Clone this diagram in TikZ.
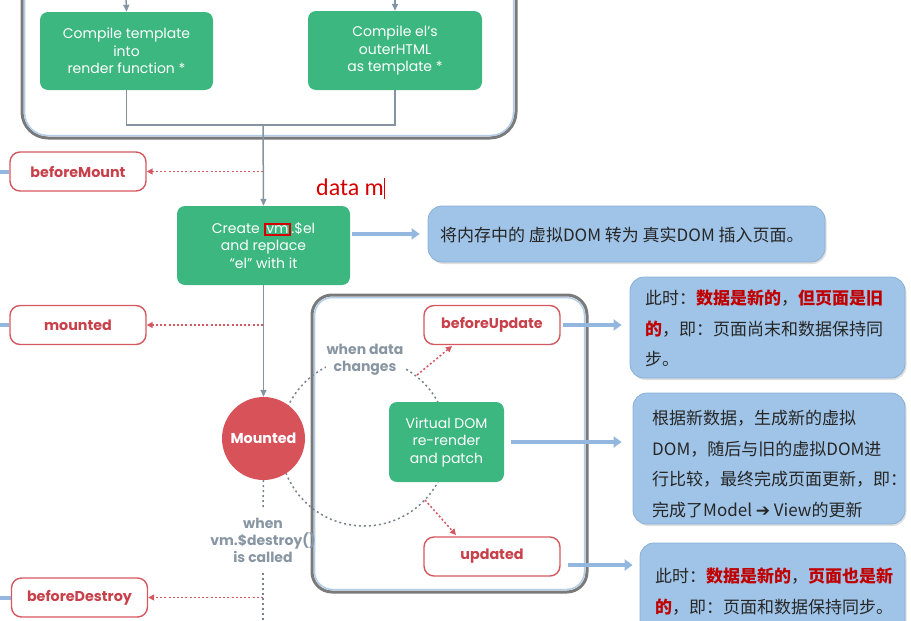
\documentclass[tikz,border=0pt]{standalone}
\usepackage{fontspec}
\setmainfont{Poppins}
\newfontfamily\cjk{Noto Sans CJK SC}
\newfontfamily\dejavu{DejaVu Sans}
\newfontfamily\carl{Carlito}
\usetikzlibrary{arrows.meta,shadows}
\definecolor{vgreen}{HTML}{3CB77F}
\definecolor{hookred}{HTML}{D4585F}
\definecolor{hooktxt}{HTML}{C8414A}
\definecolor{mred}{HTML}{D8525A}
\definecolor{lnk}{HTML}{8494A2}
\definecolor{dotgray}{HTML}{77838E}
\definecolor{notebg}{HTML}{9FC4E7}
\definecolor{noteedge}{HTML}{8AAFD6}
\definecolor{arrowblue}{HTML}{94B7DF}
\definecolor{frameg}{HTML}{7A7A7A}
\definecolor{framein}{HTML}{B3CDE9}
\definecolor{lbl}{HTML}{8896A3}
\definecolor{notered}{HTML}{C00000}
\definecolor{typered}{HTML}{D40000}
\newcommand\emred[1]{{\bfseries\color{notered}#1}}
\begin{document}
\begin{tikzpicture}[x=1pt,y=-1pt,
  greenbox/.style={fill=vgreen, rounded corners=8pt, text=white, font=\fontsize{14}{17.5}\selectfont, align=center, inner sep=0pt},
  hook/.style={draw=hookred, line width=1.4pt, fill=white, rounded corners=10pt, minimum width=136pt, minimum height=39pt, inner sep=0pt, text=hooktxt, font=\bfseries\fontsize{14.3}{16}\selectfont},
  note/.style={fill=notebg, draw=noteedge, line width=0.8pt, rounded corners=14pt, inner sep=0pt, drop shadow={shadow xshift=1.5pt, shadow yshift=-2pt, opacity=0.25}},
  notetxt/.style={font=\cjk\fontsize{17}{30.5}\selectfont, text=black!85, inner sep=0pt, align=left},
  conn/.style={draw=lnk, line width=1.5pt},
  connarrow/.style={conn, -{Triangle[length=7pt,width=6pt]}},
  hookarrow/.style={draw=hookred, line width=1.5pt, dash pattern=on 2pt off 2.2pt, -{Triangle[length=6pt,width=6pt]}},
  bluearrow/.style={draw=arrowblue, line width=4pt, -{Triangle[length=8pt,width=11pt]}},
  stub/.style={draw=arrowblue, line width=4pt},
  graylbl/.style={text=lbl, font=\bfseries\fontsize{14}{17}\selectfont, align=center, inner sep=1pt},
  grayline/.style={dotgray, line width=1.5pt, dash pattern=on 2pt off 3pt},
  ]
\useasboundingbox (0,0) rectangle (911,621);

% frames
\draw[frameg, line width=3pt, rounded corners=26pt] (22,-40) rectangle (516,138);
\draw[framein, line width=1.5pt, rounded corners=23pt] (24.5,-40) rectangle (513.5,135.5);
\draw[frameg, line width=3pt, rounded corners=20pt] (312,295) rectangle (587,592);
\draw[framein, line width=1.5pt, rounded corners=18pt] (314.5,297.5) rectangle (584.5,589.5);

% dotted circle of the update loop
\draw[grayline] (364,442) circle (84);

% green boxes
\node[greenbox, minimum width=173pt, minimum height=78pt] (c1) at (126.5,51) {Compile template\\into\\render function *};
\node[greenbox, minimum width=174pt, minimum height=79pt] (c2) at (395,50.5) {Compile el's\\outerHTML\\as template *};
\node[greenbox, minimum width=173pt, minimum height=79pt] (cr) at (263.5,245.5) {Create \setlength{\fboxsep}{0.6pt}\setlength{\fboxrule}{2.2pt}\fcolorbox{typered}{vgreen}{vm}.\$el\\and replace\\“el” with it};
\node[greenbox, minimum width=115pt, minimum height=80pt] (vd) at (446.5,442) {Virtual DOM\\re-render\\and patch};

% incoming lines at the top
\coordinate (in1) at (126,-5);
\coordinate (in2) at (395,-5);
\draw[connarrow] (in1) -- (c1.north);
\draw[connarrow] (in2) -- (c2.north);

% merge into Create
\coordinate (j) at (263,125);
\draw[conn] (c1.south) -- (c1.south |- j) -- (c2.south |- j) -- (c2.south);
\draw[connarrow] (j) -- (cr.north);

% hooks on the left
\node[hook] (bm) at (78,171.5) {beforeMount};
\node[hook] (md) at (78,325) {mounted};
\node[hook] (bd) at (79.5,597.5) {beforeDestroy};
\coordinate (sbm) at (0,171.5);
\coordinate (smd) at (0,325);
\coordinate (sbd) at (0,597.5);
\draw[stub] (sbm) -- (bm.west);
\draw[stub] (smd) -- (md.west);
\draw[stub] (sbd) -- (bd.west);
\draw[hookarrow] (j |- bm.east) -- (bm.east);
\draw[hookarrow] (j |- md.east) -- (md.east);
\draw[hookarrow] (j |- bd.east) -- (bd.east);

% typed text
\node[anchor=base west, inner sep=0pt, text=typered, font=\carl\fontsize{24}{26}\selectfont] (typed) at (316,195) {data m\rule[-4pt]{0.9pt}{21pt}};

% Mounted circle
\node[circle, fill=mred, minimum size=83pt, inner sep=0pt, text=white, font=\bfseries\fontsize{14.3}{16}\selectfont] (mt) at (263.5,438.5) {Mounted};
\draw[connarrow] (cr.south) -- (mt.north);

% destroy branch
\coordinate (d1) at (263,510);
\coordinate (d2) at (263,573);
\coordinate (d3) at (263,625);
\draw[grayline] (mt.south) -- (d1);
\draw[grayline] (d2) -- (d3);
\node[graylbl] (wd) at (263,540) {when\\vm.\$destroy()\\is called};

% update loop
\node[graylbl, fill=white] (wc) at (365,360) {when data\\changes};
\node[hook] (bu) at (492,325) {beforeUpdate};
\node[hook] (up) at (492,556.5) {updated};
\coordinate (r1) at (417,375);
\coordinate (r2) at (425,500);
\draw[hookarrow] (r1) -- (452,346);
\draw[hookarrow] (r2) -- (456,535);

% notes
\node[note, minimum width=397pt, minimum height=56pt] (n0) at (626.5,234) {};
\node[notetxt, anchor=west] (t0) at (440,235) {将内存中的 虚拟DOM 转为 真实DOM 插入页面。};
\node[note, minimum width=275pt, minimum height=101pt] (n1) at (767.5,327.5) {};
\node[notetxt, anchor=north west] (t1) at (645,290) {此时：\emred{数据是新的}，\emred{但页面是旧}\\\emred{的}，即：页面尚末和数据保持同\\步。};
\node[note, minimum width=272pt, minimum height=131pt] (n2) at (769,458.5) {};
\node[notetxt, anchor=north west] (t2) at (652,410) {根据新数据，生成新的虚拟\\DOM，随后与旧的虚拟DOM进\\行比较，最终完成页面更新，即：\\完成了Model {\dejavu\bfseries ➔} View的更新};
\node[note, minimum width=265pt, minimum height=100pt] (n3) at (772.5,593) {};
\node[notetxt, anchor=north west] (t3) at (655,568) {此时：\emred{数据是新的}，\emred{页面也是新}\\\emred{的}，即：页面和数据保持同步。};

% blue arrows
\draw[bluearrow] ([xshift=2pt]cr.east |- n0.west) -- ([xshift=-8pt]n0.west);
\draw[bluearrow] ([xshift=2pt]bu.east) -- ([xshift=-8pt]bu.east -| n1.west);
\draw[bluearrow] ([xshift=7pt]vd.east) -- ([xshift=-11pt]vd.east -| n2.west);
\coordinate (ua) at (568,565);
\draw[bluearrow] (ua) -- ([xshift=-7pt]ua -| n3.west);
\end{tikzpicture}
\end{document}
